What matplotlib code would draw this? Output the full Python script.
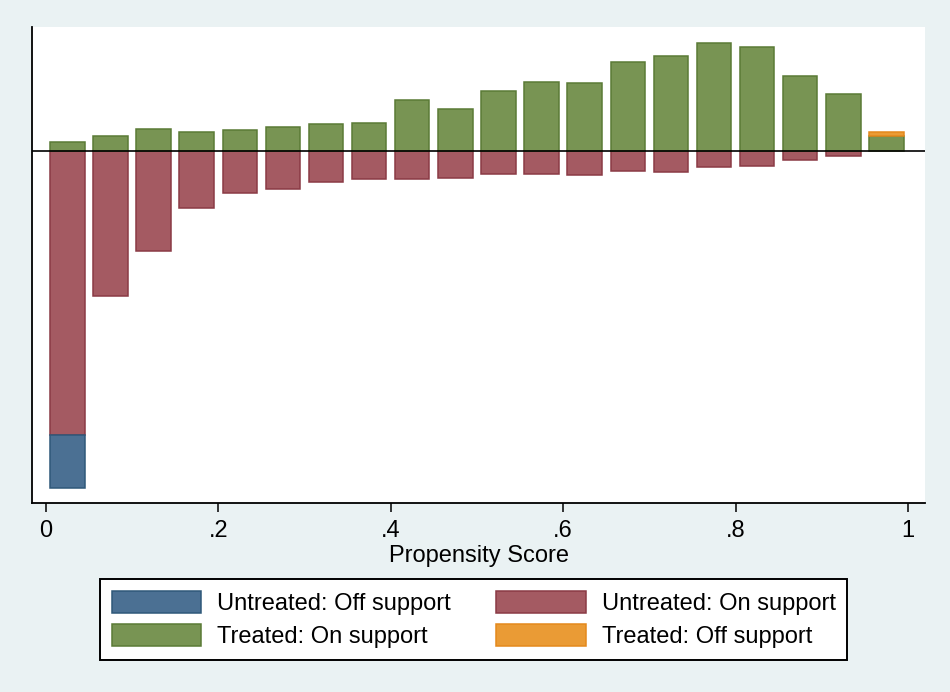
import numpy as np
import matplotlib.pyplot as plt
from matplotlib.patches import Patch

# ------------------------------------------------------------------
# Datos (psgraph): 20 bins de ancho 0.05
# ------------------------------------------------------------------
centros = np.arange(0.025, 1.0, 0.05)

tratados_on = [0.90, 1.50, 2.20, 1.87, 2.03, 2.40, 2.70, 2.80, 5.03, 4.17,
               5.93, 6.83, 6.73, 8.83, 9.47, 10.80, 10.40, 7.43, 5.67, 1.50]
tratados_off = [0, 0, 0, 0, 0, 0, 0, 0, 0, 0,
                0, 0, 0, 0, 0, 0, 0, 0, 0, 0.35]
no_tratados_on = [28.40, 14.57, 10.07, 5.73, 4.23, 3.87, 3.10, 2.83, 2.87, 2.77,
                  2.33, 2.30, 2.43, 2.03, 2.13, 1.60, 1.53, 0.97, 0.50, 0]
no_tratados_off = [5.33, 0, 0, 0, 0, 0, 0, 0, 0, 0,
                   0, 0, 0, 0, 0, 0, 0, 0, 0, 0]

ticks_x = [0, 0.2, 0.4, 0.6, 0.8, 1.0]
etiquetas_x = ['0', '.2', '.4', '.6', '.8', '1']

etiquetas = ['Untreated: Off support', 'Untreated: On support',
             'Treated: On support', 'Treated: Off support']

# colores estilo Stata
c_azul, e_azul = '#4B7093', '#2F5879'
c_rojo, e_rojo = '#A45A62', '#8A3A45'
c_verde, e_verde = '#789453', '#5A7A36'
c_naranja, e_naranja = '#EA9B35', '#E4891C'
fondo = '#EAF2F3'
fs = 17

plt.rcParams['font.family'] = ['Liberation Sans', 'DejaVu Sans']

fig = plt.figure(figsize=(9.5, 6.92), dpi=100, facecolor=fondo)
ax = fig.add_axes([0.0337, 0.2731, 0.94, 0.6879])
ax.set_facecolor('white')

ancho = 0.04


def barras(valores, base, color, borde, signo):
    # solo dibujamos los bins con altura distinta de cero
    valores = np.array(valores, dtype=float)
    base = np.array(base, dtype=float)
    m = valores > 0
    ax.bar(centros[m], signo * valores[m], bottom=signo * base[m], width=ancho,
           color=color, edgecolor=borde, linewidth=1.1, zorder=2)


ceros = np.zeros(len(centros))
barras(no_tratados_on, ceros, c_rojo, e_rojo, -1)
barras(no_tratados_off, no_tratados_on, c_azul, e_azul, -1)
barras(tratados_on, ceros, c_verde, e_verde, 1)
barras(tratados_off, tratados_on, c_naranja, e_naranja, 1)

ax.axhline(0, color='black', linewidth=1.2, zorder=3)

ax.set_xlim(-0.016, 1.0197)
ax.set_ylim(-35.23, 12.37)

for lado in ['top', 'right']:
    ax.spines[lado].set_visible(False)
for lado in ['left', 'bottom']:
    ax.spines[lado].set_linewidth(1.3)
    ax.spines[lado].set_color('black')

ax.set_yticks([])
ax.set_xticks(ticks_x)
ax.set_xticklabels(etiquetas_x, fontsize=fs)
ax.tick_params(axis='x', length=6.5, width=1.1, pad=6)
ax.set_xlabel('Propensity Score', fontsize=fs, labelpad=2)

manijas = [
    Patch(facecolor=c_azul, edgecolor=e_azul, linewidth=1.1),
    Patch(facecolor=c_verde, edgecolor=e_verde, linewidth=1.1),
    Patch(facecolor=c_rojo, edgecolor=e_rojo, linewidth=1.1),
    Patch(facecolor=c_naranja, edgecolor=e_naranja, linewidth=1.1),
]
textos = [etiquetas[0], etiquetas[2], etiquetas[1], etiquetas[3]]
leg = fig.legend(manijas, textos, ncol=2, loc='center', bbox_to_anchor=(0.4985, 0.1048),
                 fontsize=fs, frameon=True, fancybox=False, edgecolor='black',
                 handlelength=3.8, handleheight=1.05, handletextpad=0.65,
                 columnspacing=1.95, labelspacing=0.36, borderpad=0.5, borderaxespad=0)
leg.get_frame().set_linewidth(1.4)
leg.get_frame().set_facecolor('white')
leg.get_frame().set_alpha(1)

plt.savefig('out.png', dpi=100, facecolor=fondo)
plt.close()
